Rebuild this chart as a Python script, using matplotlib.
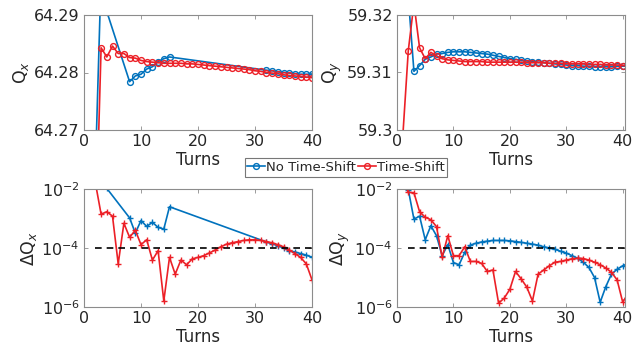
import numpy as np
import matplotlib
matplotlib.use('Agg')
import matplotlib.pyplot as plt

nan = np.nan

########################################################################
# data read off the picture (nan = turn not recorded)
turns_l = np.arange(1, 41)
turns_r = np.arange(1, 42)

qx_noshift = [nan, 64.2633, 64.2967, 64.2906, nan, nan, nan, 64.2784, 64.2794, 64.2797,
              64.2806, 64.2810, 64.2819, 64.2824, 64.2827, nan, nan, nan, nan, nan,
              nan, nan, nan, nan, nan, nan, nan, nan, nan, nan,
              nan, 64.2804, 64.2803, 64.2801, 64.2800, 64.2799, 64.2798, 64.2797, 64.2797, 64.2797]
qx_shift = [nan, 64.2494, 64.2843, 64.2827, 64.2846, 64.2833, 64.2833, 64.2826, 64.2825, 64.2821,
            64.2819, 64.2818, 64.2817, 64.2816, 64.2816, 64.2816, 64.2816, 64.2815, 64.2815, 64.2814,
            64.2813, 64.2812, 64.2811, 64.2810, 64.2809, 64.2808, 64.2807, 64.2806, 64.2805, 64.2803,
            64.2802, 64.2800, 64.2799, 64.2798, 64.2796, 64.2795, 64.2794, 64.2793, 64.2792, 64.2791]

qy_noshift = [59.36, 59.3231, 59.3102, 59.3112, 59.3123, 59.3127, 59.3132, 59.3133, 59.3135, 59.3136,
              59.3136, 59.3136, 59.3135, 59.3134, 59.3133, 59.3132, 59.3130, 59.3128, 59.3126, 59.3124,
              59.3123, 59.3121, 59.3120, 59.3119, 59.3118, 59.3117, 59.3116, 59.3115, 59.3114, 59.3113,
              59.3112, 59.3112, 59.3111, 59.3111, 59.3110, 59.3110, 59.3110, 59.3110, 59.3111, 59.3111,
              59.3111]
qy_shift = [59.2985, 59.3138, 59.3220, 59.3143, 59.3124, 59.3135, 59.3129, 59.3124, 59.3122, 59.3121,
            59.3120, 59.3119, 59.3119, 59.3119, 59.3119, 59.3118, 59.3118, 59.3118, 59.3118, 59.3118,
            59.3118, 59.3118, 59.3117, 59.3117, 59.3117, 59.3117, 59.3116, 59.3116, 59.3116, 59.3115,
            59.3115, 59.3115, 59.3115, 59.3114, 59.3114, 59.3114, 59.3113, 59.3113, 59.3113, 59.3112,
            59.3112]

dqx_noshift = [nan, 5e-2, 3e-2, 1.05e-2, nan, nan, nan, 1.05e-3, 3.2e-4, 8.5e-4,
               5.4e-4, 7.4e-4, 5.0e-4, 4.4e-4, 2.5e-3, nan, nan, nan, nan, nan,
               nan, nan, nan, nan, nan, nan, nan, nan, nan, nan,
               nan, 1.6e-4, 1.4e-4, 1.2e-4, 1.0e-4, 8.2e-5, 7.3e-5, 6.5e-5, 5.7e-5, 4.9e-5]
dqx_shift = [nan, 1.6e-2, 1.4e-3, 1.7e-3, 1.2e-3, 2.9e-5, 6.9e-4, 2.3e-4, 4.0e-4, 1.3e-4,
             1.9e-4, 3.9e-5, 8.1e-5, 1.6e-6, 4.8e-5, 1.3e-5, 3.9e-5, 2.7e-5, 4.3e-5, 4.8e-5,
             5.5e-5, 6.8e-5, 8.5e-5, 1.1e-4, 1.35e-4, 1.5e-4, 1.65e-4, 1.8e-4, 1.9e-4, 1.9e-4,
             1.8e-4, 1.65e-4, 1.5e-4, 1.3e-4, 1.1e-4, 8.5e-5, 6.5e-5, 4.8e-5, 2.9e-5, 8.3e-6]

dqy_noshift = [5e-2, 9.5e-3, 9.5e-4, 1.2e-3, 1.9e-4, 5.7e-4, 2.6e-4, 5.5e-5, 1.3e-4, 3.2e-5,
               2.7e-5, 7.1e-5, 1.26e-4, 1.45e-4, 1.6e-4, 1.7e-4, 1.8e-4, 1.8e-4, 1.8e-4, 1.75e-4,
               1.65e-4, 1.55e-4, 1.45e-4, 1.35e-4, 1.25e-4, 1.1e-4, 1.0e-4, 9e-5, 7.7e-5, 6.7e-5,
               5.5e-5, 4.5e-5, 3.3e-5, 2.2e-5, 1.0e-5, 1.45e-6, 4.9e-6, 1.3e-5, 1.9e-5, 2.5e-5,
               3.0e-5]
dqy_shift = [2e-2, 7.7e-3, 7.5e-3, 1.7e-3, 1.1e-3, 9.1e-4, 5.3e-4, 4.8e-5, 2.6e-4, 5.5e-5,
             5.5e-5, 1.1e-4, 3.5e-5, 3.5e-5, 3.0e-5, 1.6e-5, 1.8e-5, 1.35e-6, 2.0e-6, 4.0e-6,
             1.6e-5, 9e-6, 4.7e-6, 1.6e-6, 1.3e-5, 1.8e-5, 2.5e-5, 3.3e-5, 3.5e-5, 3.9e-5,
             4.3e-5, 4.5e-5, 4.4e-5, 3.9e-5, 3.3e-5, 2.7e-5, 2.1e-5, 1.5e-5, 8.3e-6, 1.45e-6,
             3e-6]

threshold = 1e-4
labels = ['No Time-Shift', 'Time-Shift']

######################################################################
blue = '#0072BD'
red = '#EC2027'
txt = '#262626'

plt.rcParams['font.family'] = 'DejaVu Sans'
plt.rcParams['mathtext.fontset'] = 'dejavusans'

fig = plt.figure(figsize=(6.4, 3.48), dpi=100)
W, H = 640.0, 348.0


def make_ax(x0, y0, x1, y1):
    ax = fig.add_axes([x0 / W, 1 - y1 / H, (x1 - x0) / W, (y1 - y0) / H])
    for s in ax.spines.values():
        s.set_color('#8c8c8c')
        s.set_linewidth(0.8)
    ax.tick_params(direction='in', top=True, right=True, length=3, width=0.6,
                   color='#8c8c8c', labelsize=11.5, labelcolor=txt, pad=3)
    ax.minorticks_off()
    return ax


def style_x(ax, xmax):
    ax.set_xlim(0, xmax)
    ax.set_xticks([0, 10, 20, 30, 40])
    ax.set_xlabel('Turns', fontsize=12, color=txt, labelpad=1)


def draw(ax, x, y, color, **kw):
    # missing turns are skipped, the line joins the recorded ones
    y = np.asarray(y, dtype=float)
    ok = ~np.isnan(y)
    return ax.plot(np.asarray(x)[ok], y[ok], color=color, **kw)[0]


ax1 = make_ax(84, 15, 312, 130)
ax2 = make_ax(397, 15, 625, 130)
ax3 = make_ax(84, 189, 312, 307)
ax4 = make_ax(397, 189, 625, 307)

# tune plots
circ = dict(marker='o', markersize=4.2, fillstyle='none', markeredgewidth=1.0, lw=1.2)
h1 = draw(ax1, turns_l, qx_noshift, blue, label=labels[0], **circ)
h2 = draw(ax1, turns_l, qx_shift, red, label=labels[1], **circ)
ax1.set_ylim(64.27, 64.29)
ax1.set_yticks([64.27, 64.28, 64.29])
ax1.set_yticklabels(['64.27', '64.28', '64.29'])
ax1.set_ylabel('Q$_x$', fontsize=12.5, color=txt, labelpad=2)
style_x(ax1, 40)

draw(ax2, turns_r, qy_noshift, blue, **circ)
draw(ax2, turns_r, qy_shift, red, **circ)
ax2.set_ylim(59.30, 59.32)
ax2.set_yticks([59.30, 59.31, 59.32])
ax2.set_yticklabels(['59.3', '59.31', '59.32'])
ax2.set_ylabel('Q$_y$', fontsize=12.5, color=txt, labelpad=2)
style_x(ax2, 40.4)

# tune spread plots
plus = dict(marker='+', markersize=5, markeredgewidth=1.0, lw=1.2)
draw(ax3, turns_l, dqx_noshift, blue, **plus)
draw(ax3, turns_l, dqx_shift, red, **plus)
ax3.plot(turns_l[1:], [threshold] * len(turns_l[1:]), 'k--', lw=1.2, dashes=(4, 3))
draw(ax4, turns_r, dqy_noshift, blue, **plus)
draw(ax4, turns_r, dqy_shift, red, **plus)
ax4.plot(turns_r[1:], [threshold] * len(turns_r[1:]), 'k--', lw=1.2, dashes=(4, 3))

for ax, lab, xm in [(ax3, r'$\Delta$Q$_x$', 40), (ax4, r'$\Delta$Q$_y$', 40.4)]:
    ax.set_yscale('log')
    ax.set_ylim(1e-6, 1e-2)
    ax.set_yticks([1e-6, 1e-4, 1e-2])
    ax.set_yticklabels(['$10^{-6}$', '$10^{-4}$', '$10^{-2}$'])
    ax.minorticks_off()
    ax.set_ylabel(lab, fontsize=12.5, color=txt, labelpad=2)
    style_x(ax, xm)

leg = fig.legend(handles=[h1, h2], loc='center', bbox_to_anchor=(346 / W, 1 - 167.5 / H),
                 ncol=2, fontsize=9.5, frameon=True, fancybox=False, handlelength=1.3,
                 handletextpad=0.1, columnspacing=0.2, borderpad=0.2, borderaxespad=0)
leg.get_frame().set_edgecolor('#555555')
leg.get_frame().set_linewidth(0.8)
for t in leg.get_texts():
    t.set_color(txt)

fig.savefig('out.png', dpi=100)
